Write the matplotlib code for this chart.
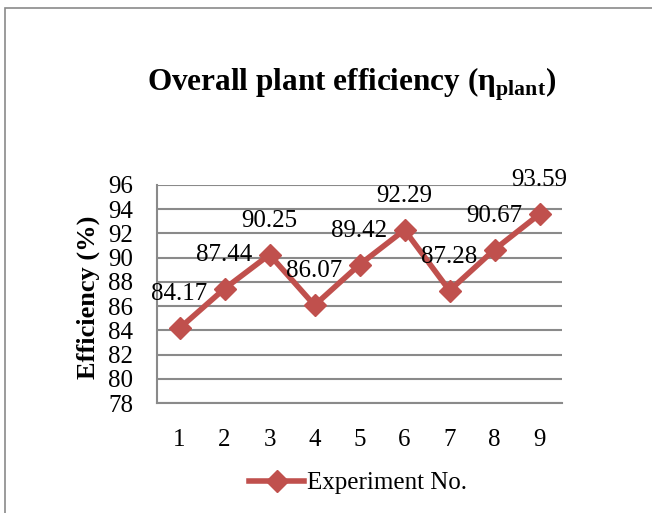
import matplotlib.pyplot as plt
import matplotlib as mpl
from matplotlib.lines import Line2D
from matplotlib.patches import Rectangle

mpl.rcParams["font.family"] = ["Liberation Serif", "DejaVu Serif"]
mpl.rcParams["mathtext.fontset"] = "custom"
mpl.rcParams["mathtext.rm"] = "Liberation Serif"
mpl.rcParams["mathtext.bf"] = "Liberation Serif:bold"

# data
experiments = [1, 2, 3, 4, 5, 6, 7, 8, 9]
efficiency = [84.17, 87.44, 90.25, 86.07, 89.42, 92.29, 87.28, 90.67, 93.59]
y_ticks = list(range(78, 97, 2))

red = "#C0504D"
grid_col = "#8a8a8a"

fig = plt.figure(figsize=(6.52, 5.13), dpi=100)
ax = fig.add_axes([0.2408, 0.2144, 0.6212, 0.425])

ax.plot(experiments, efficiency, color=red, lw=4, marker="D", ms=11.5,
        markeredgecolor=red, markerfacecolor=red)

# data labels above each point
for i in range(len(experiments)):
    ax.annotate("%.2f" % efficiency[i], (experiments[i], efficiency[i]),
                xytext=(0, 24.5), textcoords="offset points",
                ha="center", va="center", fontsize=18)

ax.set_xlim(0.5, 9.5)
ax.set_ylim(78, 96)
ax.set_yticks(y_ticks)
ax.set_xticks(experiments)
ax.tick_params(axis="both", length=0, labelsize=18)
ax.tick_params(axis="y", pad=17)
ax.tick_params(axis="x", pad=19)
ax.yaxis.grid(True, color=grid_col, lw=1.5)
ax.set_axisbelow(True)
for s in ["top", "right"]:
    ax.spines[s].set_visible(False)
for s in ["left", "bottom"]:
    ax.spines[s].set_color(grid_col)
    ax.spines[s].set_linewidth(1.5)

fig.text(352 / 652, 1 - 84 / 513, r"Overall plant efficiency ($\mathbf{\eta}_{\mathbf{plant}}$)",
         ha="center", va="center", fontsize=22.5, fontweight="bold")
fig.text(88 / 652, 1 - 297 / 513, "Efficiency (%)", rotation=90,
         ha="center", va="center", fontsize=19, fontweight="bold")

handle = Line2D([], [], color=red, lw=4, marker="D", ms=11.5)
fig.legend([handle], ["Experiment No."], loc="center", bbox_to_anchor=(358 / 652, 1 - 483 / 513),
           frameon=False, fontsize=18, handlelength=2.2, handletextpad=0.12)

fig.add_artist(Rectangle((5 / 652, -0.1), 1.2, 1 - 8 / 513 + 0.1, transform=fig.transFigure,
                         fill=False, edgecolor="#8a8a8a", lw=1.2))

fig.savefig("out.png", dpi=100)
